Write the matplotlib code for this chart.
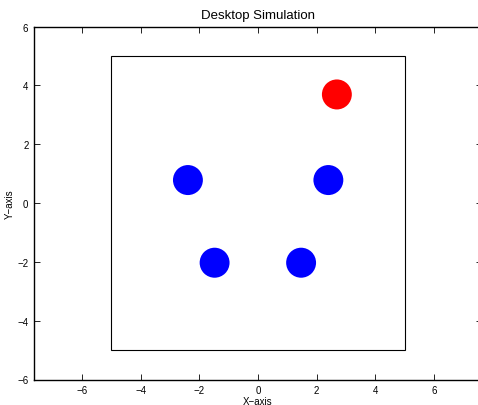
import matplotlib
matplotlib.use("Agg")
import matplotlib.pyplot as plt
from matplotlib.patches import Circle, Rectangle

plt.rcParams['font.family'] = ['Liberation Sans', 'DejaVu Sans']

# desktop boundary (square) and objects on it
desk_x = [-5, 5]
desk_y = [-5, 5]
obj_x = [-2.39, 2.4, -1.48, 1.47, 2.69]
obj_y = [0.78, 0.78, -2.03, -2.03, 3.69]
obj_r = [0.51, 0.51, 0.51, 0.51, 0.51]
obj_color = ['blue', 'blue', 'blue', 'blue', 'red']

x_ticks = [-6, -4, -2, 0, 2, 4, 6]
y_ticks = [-6, -4, -2, 0, 2, 4, 6]

fig = plt.figure(figsize=(4.78, 4.06), dpi=100)
ax = fig.add_axes([34 / 478, 25.5 / 406, 448 / 478, 353 / 406])

ax.add_patch(Rectangle((desk_x[0], desk_y[0]), desk_x[1] - desk_x[0], desk_y[1] - desk_y[0],
                       fill=False, edgecolor='black', linewidth=0.8))
for x, y, r, c in zip(obj_x, obj_y, obj_r, obj_color):
    ax.add_patch(Circle((x, y), r, facecolor=c, edgecolor='none'))

ax.set_xlim(-7.64, 7.64)
ax.set_ylim(-6, 6)
ax.set_xticks(x_ticks)
ax.set_yticks(y_ticks)
ax.tick_params(direction='in', top=True, right=True, labelsize=7, length=4, width=0.6, pad=4)
for s in ax.spines.values():
    s.set_linewidth(1.0)

ax.set_title("Desktop Simulation", fontsize=9.5, pad=6)
ax.set_xlabel("X\u2212axis", fontsize=7, labelpad=1)
ax.set_ylabel("Y\u2212axis", fontsize=7, labelpad=2)

fig.savefig("out.png", dpi=100)
